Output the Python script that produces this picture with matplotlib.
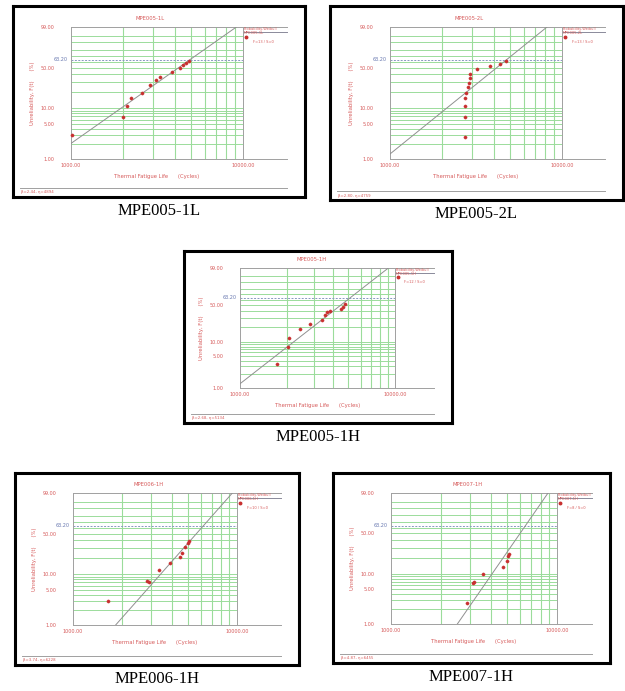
import numpy as np
import matplotlib
matplotlib.use('Agg')
import matplotlib.pyplot as plt
from matplotlib.transforms import blended_transform_factory

W, H = 625, 691

# sample names shown under each chart
names = ['MPE005-1L', 'MPE005-2L', 'MPE005-1H', 'MPE006-1H', 'MPE007-1H']

# failure data: cycles and unreliability (%)
cyc_1L = [1009, 2012, 2123, 2220, 2570, 2880, 3140, 3280, 3840, 4330, 4490, 4690, 4860]
unr_1L = [3.0, 6.9, 11.0, 15.4, 19.6, 26.7, 32.3, 36.5, 43.7, 49.9, 54.0, 58.0, 61.0]
cyc_2L = [2730, 2730, 2730, 2730, 2750, 2860, 2890, 2910, 2910, 3200, 3830, 4370, 4740]
unr_2L = [2.8, 6.9, 11.0, 15.4, 19.0, 24.3, 29.2, 34.5, 40.0, 47.8, 52.8, 57.0, 60.8]
cyc_1H = [1725, 2050, 2080, 2440, 2830, 3360, 3530, 3620, 3780, 4460, 4640, 4760]
unr_1H = [3.3, 7.95, 12.3, 18.2, 22.9, 27.8, 34.3, 39.2, 40.0, 44.0, 47.5, 51.8]
cyc_6H = [1634, 2826, 2900, 3330, 3920, 4510, 4640, 4790, 5010, 5070]
unr_6H = [2.95, 7.5, 7.0, 12.2, 16.1, 20.8, 25.2, 30.8, 36.8, 39.0]
cyc_7H = [2860, 3130, 3160, 3600, 4700, 4970, 5080, 5130]
unr_7H = [2.7, 6.5, 6.8, 9.8, 13.7, 17.2, 21.6, 23.8]

# fitted line end points (cycles, %)
fit_x = [[1000, 9150], [1000, 8180], [1000, 9060], [1820, 9370], [2510, 8830]]
fit_y = [[2.05, 99], [1.26, 99], [1.24, 99], [1.0, 99], [1.0, 99]]
params = ['β=2.44, η=4894', 'β=2.80, η=4759', 'β=2.68, η=5134',
          'β=3.74, η=6228', 'β=4.87, η=6455']
counts = ['F=13 / S=0', 'F=13 / S=0', 'F=12 / S=0', 'F=10 / S=0', 'F=8 / S=0']

y_ticks = [1, 5, 10, 50, 99]
y_grid = [2, 3, 4, 5, 6, 7, 8, 9, 10, 20, 30, 40, 50, 60, 70, 80, 90, 95]
x_ticks = [1000, 10000]
x_grid = [2000, 3000, 4000, 5000, 6000, 7000, 8000, 9000]

# frames and plot areas in pixels (left, top, right, bottom)
frames = [(13, 6, 305, 197), (330, 6, 623, 200), (184, 251, 452, 423),
          (15, 473, 299, 665), (333, 473, 610, 663)]
inners = [(71, 27, 243, 159), (390, 27, 562, 159), (240, 268, 395, 388),
          (73, 493, 237, 625), (391, 493, 557, 624)]

RED = '#d65a5a'
GREEN = '#9bdc9b'
GREY = '#a0a0a0'


def rect(l, t, r, b):
    return [l / W, 1 - b / H, (r - l) / W, (b - t) / H]


def fwd(p):
    p = np.clip(np.asarray(p, dtype=float), 1e-6, 100 - 1e-6)
    return np.log(-np.log(1 - p / 100))


def inv(w):
    return 100 * (1 - np.exp(-np.exp(w)))


fig = plt.figure(figsize=(W / 100, H / 100), dpi=100)
plt.rcParams['font.family'] = ['DejaVu Sans']

data = [(cyc_1L, unr_1L), (cyc_2L, unr_2L), (cyc_1H, unr_1H),
        (cyc_6H, unr_6H), (cyc_7H, unr_7H)]

for i in range(5):
    fl, ft, frr, fb = frames[i]
    il, it, ir, ib = inners[i]
    # outer black frame
    fa = fig.add_axes(rect(fl, ft, frr, fb))
    fa.set_xticks([])
    fa.set_yticks([])
    for s in fa.spines.values():
        s.set_linewidth(2.2)
        s.set_color('black')
    fa.set_zorder(0)

    ax = fig.add_axes(rect(il, it, ir, ib))
    ax.set_zorder(1)
    ax.patch.set_alpha(0)
    ax.set_xscale('log')
    ax.set_yscale('function', functions=(fwd, inv))
    ax.set_xlim(1000, 10000)
    ax.set_ylim(1, 99)
    for s in ax.spines.values():
        s.set_color(GREY)
        s.set_linewidth(0.7)

    for g in y_grid:
        ax.axhline(g, color=GREEN, lw=0.7, zorder=1)
    for g in x_grid:
        ax.axvline(g, color=GREEN, lw=0.8, zorder=1)
    ax.axhline(63.2, color='#8898c0', lw=0.7, ls=(0, (2, 1.5)), zorder=2)

    # lines running past the plot into the legend area
    ext = (frr - 18 - il) / (ir - il)
    tr = blended_transform_factory(ax.transAxes, ax.transData)
    for yy in [99, 1]:
        ax.plot([1, ext], [yy, yy], color=GREY, lw=0.7, transform=tr, clip_on=False)
    ax.plot([1, ext], [97.2, 97.2], color='#8a8a9a', lw=0.7, transform=tr, clip_on=False)

    ax.plot(fit_x[i], fit_y[i], color='#909090', lw=0.7, zorder=3)
    cx, uy = data[i]
    ax.plot(cx, uy, 'o', color='#c83030', ms=2.3, mec='#c83030', mew=0.3, zorder=4,
            clip_on=False)

    ax.set_yticks(y_ticks)
    ax.set_yticklabels(['%.2f' % v for v in y_ticks])
    ax.set_xticks(x_ticks)
    ax.set_xticklabels(['%.2f' % v for v in x_ticks])
    ax.minorticks_off()
    ax.tick_params(length=0, labelsize=3.5, labelcolor=RED, pad=3)
    ax.tick_params(axis='y', pad=12)

    ax.text(-0.02, 63.2, '63.20', transform=tr, color='#6878b0', fontsize=3.5,
            ha='right', va='center')
    ax.set_title(names[i], color=RED, fontsize=3.8, pad=5, x=0.46)
    ax.set_xlabel('Thermal Fatigue Life      (Cycles)', color=RED, fontsize=3.8, labelpad=4)
    ax.set_ylabel('Unreliability, F(t)      (%)', color=RED, fontsize=3.8, labelpad=4)

    # legend block on the right
    ax.text(1.005, 1.0, 'Probability-Weibull\n' + names[i], transform=ax.transAxes,
            color=RED, fontsize=2.6, va='top', ha='left', linespacing=1.1)
    ax.plot([1.02], [0.925], 'o', color='#c83030', ms=1.8, transform=ax.transAxes,
            clip_on=False)
    ax.text(1.06, 0.885, counts[i], transform=ax.transAxes, color=RED, fontsize=2.6,
            va='center', ha='left')

    # footer line and text
    fy = 1 - (fb - 9) / H
    fig.add_artist(plt.Line2D([(fl + 7) / W, (frr - 18) / W], [fy, fy],
                              color=GREY, lw=0.7))
    fig.text((fl + 8) / W, 1 - (fb - 4.5) / H, params[i], color=RED, fontsize=2.8,
             va='center', ha='left')

    # caption
    fig.text((fl + frr) / 2 / W, 1 - (fb + 14) / H, names[i], fontsize=12,
             family='Liberation Serif', ha='center', va='center')

fig.savefig('out.png', dpi=100)
